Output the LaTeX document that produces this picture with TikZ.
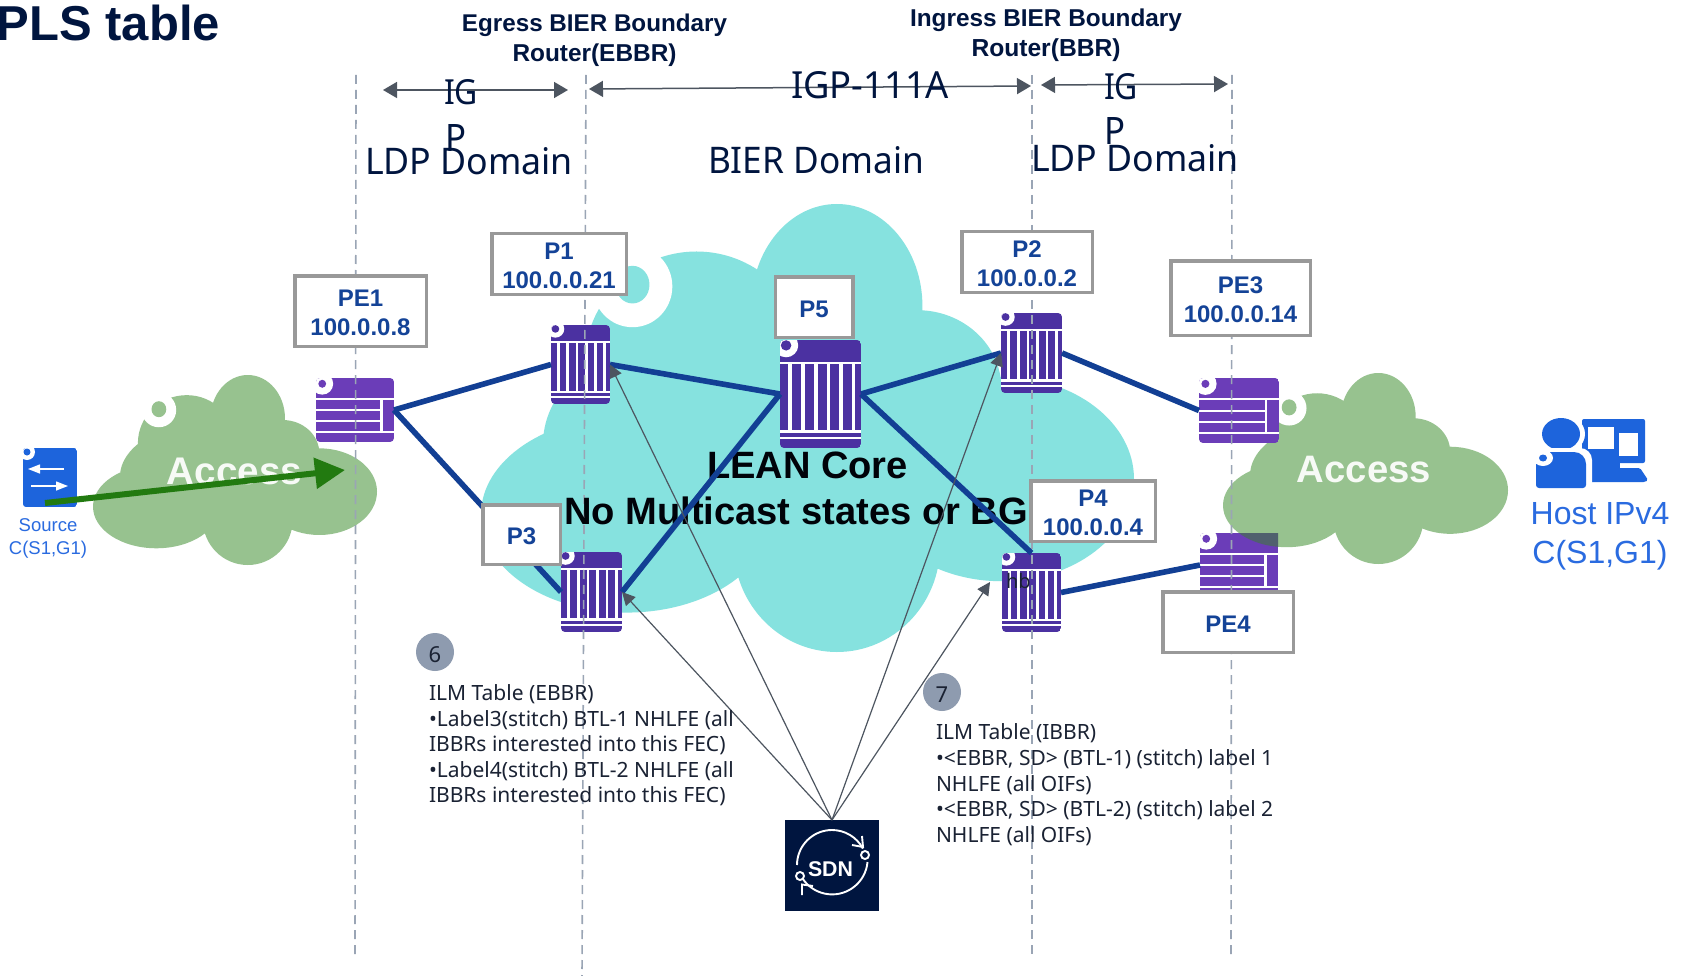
\documentclass[tikz,border=0pt]{standalone}
\usepackage{fontspec}
\usepackage{graphicx}
\setmainfont{Noto Sans}
\newfontfamily\lib{Liberation Sans}
\usetikzlibrary{arrows.meta}
\definecolor{teal1}{HTML}{86E2DF}
\definecolor{green1}{HTML}{97C28F}
\definecolor{darkover}{HTML}{50606E}
\definecolor{vrcol}{HTML}{4B31A1}
\definecolor{hrcol}{HTML}{6B3DB8}
\definecolor{linkblue}{HTML}{123F94}
\definecolor{lblblue}{HTML}{144397}
\definecolor{navy1}{HTML}{00153F}
\definecolor{slate1}{HTML}{4D5560}
\definecolor{dash1}{HTML}{9AA5B5}
\definecolor{gbox}{HTML}{999999}
\definecolor{srcblue}{HTML}{1D64DC}
\definecolor{txtblue}{HTML}{2A6BE0}
\definecolor{arrowgreen}{HTML}{227A10}
\definecolor{badge}{HTML}{8E9BAF}
\definecolor{ink}{HTML}{1A2233}
\newcommand\fz[2]{\fontsize{#1}{#2}\selectfont}
\newcommand\fitw[2]{\resizebox{#1pt}{!}{#2}}
\newcommand\fitwh[3]{\resizebox{#1pt}{#2pt}{#3}}
\newcommand\lowerstrut{\rule{0pt}{21pt}}
\tikzset{
  iconbox/.style={inner sep=0pt,outer sep=0pt,anchor=north west},
  labelbox/.style={draw=gbox,line width=3.5pt,fill=white,inner sep=0pt,outer sep=0pt,align=center,text=lblblue,font=\lib\bfseries\fz{24}{29}},
  plain/.style={inner sep=0pt,outer sep=0pt,anchor=base},
  heading/.style={plain,text=navy1,font=\lib\bfseries\fz{24}{26}},
  stretched/.style={plain,text=navy1,anchor=base west},
  domainline/.style={draw=dash1,line width=1.6pt,dash pattern=on 9pt off 6pt},
  link/.style={draw=linkblue,line width=5.6pt},
  sdnarrow/.style={draw=slate1,line width=1.2pt,-{Triangle[length=13pt,width=13pt]}},
  spanarrow/.style={draw=slate1,fill=slate1,line width=1.5pt,{Triangle[length=14pt,width=16pt]}-{Triangle[length=14pt,width=16pt]}},
  bodytext/.style={inner sep=0pt,outer sep=0pt,anchor=north west,align=left,text=ink,font=\fz{21}{25.6}},
  badgenode/.style={circle,fill=badge,minimum size=38pt,inner sep=0pt,text=ink,font=\fz{22}{24}},
  sdnring/.style={white,line width=1.9pt},
}
% lobes of a cloud in the unit square
\newcommand\cloudlobes{%
  (.223,.693) ellipse [x radius=.223,y radius=.219]
  (.33,.36) ellipse [x radius=.172,y radius=.254]
  (.545,.228) ellipse [x radius=.131,y radius=.228]
  (.668,.412) ellipse [x radius=.129,y radius=.175]
  (.797,.614) ellipse [x radius=.203,y radius=.228]
  (.545,.763) ellipse [x radius=.158,y radius=.237]
  (.445,.535) ellipse [x radius=.35,y radius=.30]
}
\newcommand\cloudshape[5]{%
  \begin{scope}[shift={(#1,#2)},x=#3pt,y=-#4pt]
    \fill[#5] \cloudlobes;
    \fill[white] (.232,.184) ellipse [x radius=.061,y radius=.091];
    \fill[#5] (.232,.18) ellipse [x radius=.026,y radius=.042];
  \end{scope}}
\newcommand\vrouter[5]{%
  \node[iconbox,minimum width=#4pt,minimum height=#5pt] (#1) at (#2,#3) {};
  \begin{scope}[shift={(#2,#3)},x=#4pt,y=-#5pt]
    \begin{scope}
      \clip[rounded corners=4pt] (0,0) rectangle (1,1);
      \fill[vrcol] (0,0) rectangle (1,1);
      \fill[white] (0,.205) rectangle (1,.225);
      \foreach \u in {.10,.26,.42,.575,.73,.885}{\fill[white] (\u,.205) rectangle (\u+.045,.83);}
      \fill[white] (0,.83) rectangle (1,.865);
      \fill[white] (0,.90) rectangle (1,.92);
      \fill[white] (.075,.05) ellipse [x radius=.15,y radius=.11];
      \fill[vrcol] (.075,.05) ellipse [x radius=.065,y radius=.048];
    \end{scope}
  \end{scope}}
\newcommand\hrouter[5]{%
  \node[iconbox,minimum width=#4pt,minimum height=#5pt] (#1) at (#2,#3) {};
  \begin{scope}[shift={(#2,#3)},x=#4pt,y=-#5pt]
    \begin{scope}
      \clip[rounded corners=4pt] (0,0) rectangle (1,1);
      \fill[hrcol] (0,0) rectangle (1,1);
      \foreach \v in {.31,.835}{\fill[white] (0,\v) rectangle (1,\v+.03);}
      \foreach \v in {.49,.66}{\fill[white] (0,\v) rectangle (.82,\v+.03);}
      \fill[white] (.82,.31) rectangle (.855,.86);
      \fill[white] (.08,.09) ellipse [x radius=.14,y radius=.17];
      \fill[hrcol] (.08,.09) ellipse [x radius=.05,y radius=.0625];
    \end{scope}
  \end{scope}}
\begin{document}
\begin{tikzpicture}[x=1pt,y=-1pt]
\useasboundingbox (0,0) rectangle (1685,976);
\fill[white] (0,0) rectangle (1685,976);

% title
\node[plain,anchor=base east,text=navy1,font=\lib\bfseries\fz{49}{50}] (title) at (220,41) {PLS table};

% clouds
\cloudshape{481}{204}{653}{448}{teal1}
\cloudshape{93}{375}{284}{190}{green1}
\cloudshape{1223}{373}{285}{191}{green1}

% routers
\hrouter{pe1}{316}{378}{78}{64}
\vrouter{p1}{551}{325}{59}{79}
\vrouter{p5}{780}{340}{81}{108}
\vrouter{p2}{1001}{313}{61}{80}
\vrouter{p3}{561}{552}{61}{80}
\vrouter{p4}{1002}{553}{59}{79}
\hrouter{pe3}{1199}{378}{80}{65}
\hrouter{pe4}{1200}{533}{78}{64}

% cloud seen over the edge routers
\begin{scope}
  \clip (1199,378) rectangle (1279,443);
  \begin{scope}[shift={(1223,373)},x=285pt,y=-191pt]
    \fill[darkover] (.223,.693) ellipse [x radius=.223,y radius=.219];
  \end{scope}
\end{scope}
\begin{scope}
  \clip (1200,533) rectangle (1278,597);
  \begin{scope}[shift={(1223,373)},x=285pt,y=-191pt]
    \fill[darkover] (.223,.693) ellipse [x radius=.223,y radius=.219];
  \end{scope}
\end{scope}

% domain lines
\coordinate (d1a) at (356,75); \coordinate (d1b) at (355,955);
\coordinate (d2a) at (586,75); \coordinate (d2b) at (582,976);
\coordinate (d3a) at (1032,75); \coordinate (d3b) at (1032,957);
\coordinate (d4a) at (1232,75); \coordinate (d4b) at (1231,957);
\draw[domainline] (d1a) -- (d1b);
\draw[domainline] (d2a) -- (d2b);
\draw[domainline] (d3a) -- (d3b);
\draw[domainline] (d4a) -- (d4b);

% headings
\node[heading] (eg1) at (594.5,32) {\fitw{265}{Egress BIER Boundary}};
\node[heading] (eg2) at (594.5,62) {\fitw{164}{Router(EBBR)}};
\node[heading] (in1) at (1046,27) {\fitw{272}{Ingress BIER Boundary}};
\node[heading] (in2) at (1046,57) {\fitw{149}{Router(BBR)}};

% span arrows
\coordinate (s1a) at (383,90); \coordinate (s1b) at (568,90);
\coordinate (s2a) at (589,89); \coordinate (s2b) at (1031,86);
\coordinate (s3a) at (1041,85); \coordinate (s3b) at (1228,84);
\draw[spanarrow] (s1a) -- (s1b);
\draw[spanarrow] (s2a) -- (s2b);
\draw[spanarrow] (s3a) -- (s3b);

% domain texts
\node[stretched] (ig1) at (444,105) {\fitwh{34}{25}{IG}};
\node[stretched] (ip1) at (445,152) {\fitwh{21}{27}{P}};
\node[stretched] (ig2) at (1104,100) {\fitwh{34}{26}{IG}};
\node[stretched] (ip2) at (1104,145) {\fitwh{21}{27}{P}};
\node[stretched] (igp) at (791,99) {\fitwh{158}{27}{IGP-111A}};
\node[stretched] (ld1) at (365,175) {\fitwh{208}{27}{LDP Domain}};
\node[stretched] (bd) at (708,174) {\fitwh{216}{27}{BIER Domain}};
\node[stretched] (ld2) at (1031,172) {\fitwh{208}{27}{LDP Domain}};

% cloud texts
\node[plain,text=black!85!navy1,font=\lib\bfseries] (core1) at (807.5,478) {\fitw{201}{LEAN Core}};
\node[plain,text=black!85!navy1,font=\lib\bfseries] (core2) at (796,524) {\fitw{464}{No Multicast states or BG}};
\node[plain,text=white!92!green1,font=\lib\bfseries] (acc1) at (234.5,484) {\fitw{135}{Access}};
\node[plain,text=white!92!green1,font=\lib\bfseries] (acc2) at (1364,482) {\fitw{134}{Access}};
\node[plain,text=ink,anchor=base west,font=\fz{20}{22}] (hb) at (1006,588) {hb};

% links
\draw[link] (pe1.east) -- (p1.west);
\draw[link] (p1.east) -- (p5.west);
\draw[link] (pe1.east) -- (p3.west);
\draw[link] (p3.east) -- (p5.west);
\draw[link] (p5.east) -- (p2.west);
\draw[link] (p5.east) -- (p4.north);
\draw[link] (p2.east) -- (pe3.west);
\draw[link] (p4.east) -- (pe4.west);

% label boxes
\node[labelbox,minimum width=131.5pt,minimum height=70.5pt] (pe1box) at (360.5,311) {\lowerstrut PE1\\100.0.0.8};
\node[labelbox,minimum width=134.5pt,minimum height=60.5pt] (p1box) at (559,264) {\lowerstrut P1\\100.0.0.21};
\node[labelbox,minimum width=77.5pt,minimum height=60.5pt] (p5box) at (814,307) {\lowerstrut P5};
\node[labelbox,minimum width=130.5pt,minimum height=60.5pt] (p2box) at (1027,262) {\lowerstrut P2\\100.0.0.2};
\node[labelbox,minimum width=139.5pt,minimum height=74.5pt] (pe3box) at (1240.5,298) {\lowerstrut PE3\\100.0.0.14};
\node[labelbox,minimum width=77.5pt,minimum height=59.5pt] (p3box) at (521.5,534.5) {\lowerstrut P3};
\node[labelbox,minimum width=124.5pt,minimum height=60.5pt] (p4box) at (1093,511) {\lowerstrut P4\\100.0.0.4};
\node[labelbox,minimum width=130.5pt,minimum height=60.5pt] (pe4box) at (1228,622) {\lowerstrut PE4};

% source
\node[iconbox,minimum width=54pt,minimum height=59pt] (source) at (23,448) {};
\begin{scope}
  \clip[rounded corners=3pt] (23,448) rectangle (77,507);
  \fill[srcblue] (23,448) rectangle (77,507);
  \fill[white] (27,452) circle[radius=8pt];
  \fill[srcblue] (27,452) circle[radius=3.5pt];
\end{scope}
\coordinate (sa1) at (64,469); \coordinate (sa2) at (28,469);
\coordinate (sa3) at (31,486); \coordinate (sa4) at (68,486);
\draw[white,line width=1.4pt,-{Triangle[length=12pt,width=9pt]}] (sa1) -- (sa2);
\draw[white,line width=1.4pt,-{Triangle[length=12pt,width=9pt]}] (sa3) -- (sa4);
\node[plain,text=txtblue,font=\lib\fz{18.5}{20}] (src1) at (48,531) {Source};
\node[plain,text=txtblue,font=\lib\fz{18.5}{20}] (src2) at (48,554) {C(S1,G1)};

% stream arrow
\coordinate (flowa) at (45,503);
\coordinate (flowb) at (345,470);
\draw[arrowgreen,line width=6pt,-{Triangle[length=30pt,width=30pt]}] (flowa) -- (flowb);

% host
\fill[srcblue,rounded corners=2pt] (1582,419) rectangle (1645,463);
\fill[white] (1588,427) rectangle (1614,449);
\fill[white] (1619,433) rectangle (1638,456);
\fill[srcblue,rounded corners=1.5pt] (1590,468) -- (1620,468) -- (1640,468) -- (1648,480) -- (1645,482) -- (1590,482) -- cycle;
\fill[srcblue] (1590,460) rectangle (1620,472);
\fill[white] (1561,434) ellipse [x radius=24pt,y radius=20pt];
\fill[srcblue] (1561,434) ellipse [x radius=19pt,y radius=16pt];
\fill[white,rounded corners=12pt] (1532,448) -- (1592,448) -- (1592,494) -- (1532,494) -- cycle;
\fill[srcblue,rounded corners=4pt] (1536,488) -- (1536,470) [rounded corners=12pt] -- (1536,452) -- (1586,452) [rounded corners=3pt] -- (1586,488) -- cycle;
\fill[white] (1543,458) ellipse [x radius=10pt,y radius=8pt];
\fill[srcblue] (1543,458) ellipse [x radius=4pt,y radius=3.5pt];
\node[plain,text=txtblue,font=\lib\fz{32}{33}] (host1) at (1600,524) {Host IPv4};
\node[plain,text=txtblue,font=\lib\fz{32}{33}] (host2) at (1600,563) {C(S1,G1)};

% SDN
\node[fill=navy1,minimum width=94pt,minimum height=91pt,inner sep=0pt,outer sep=0pt,anchor=north west] (sdn) at (785,820) {};
\node[plain,text=white,font=\lib\bfseries] (sdnt) at (830.5,876) {\fitw{45}{SDN}};
\draw[sdnring] (797,865) arc[start angle=180,end angle=28,radius=35pt];
\draw[sdnring,line join=miter] (852,845) -- (863,847) -- (862,836);
\draw[sdnring] (867.5,862) arc[start angle=-5,end angle=-147,radius=35.5pt];
\draw[sdnring,line join=miter] (813,886) -- (802,884.5) -- (802,895);
\draw[sdnring] (865,855) circle[radius=4pt];
\draw[sdnring] (800,876) circle[radius=4pt];

% controller arrows
\coordinate (p4in) at (990,582);
\draw[sdnarrow] (sdn.north) -- (p1.east);
\draw[sdnarrow] (sdn.north) -- (p3.east);
\draw[sdnarrow] (sdn.north) -- (p2.west);
\draw[sdnarrow] (sdn.north) -- (p4in);

% notes
\node[badgenode] (six) at (435,652) {\rule{0pt}{21pt}6};
\node[badgenode] (seven) at (942,692) {\rule{0pt}{21pt}7};
\node[bodytext] (ebbr) at (429,684.5) {ILM Table (EBBR)\\•Label3(stitch) BTL-1 NHLFE (all\\IBBRs interested into this FEC)\\•Label4(stitch) BTL-2 NHLFE (all\\IBBRs interested into this FEC)};
\node[bodytext] (ibbr) at (936,724) {ILM Table (IBBR)\\•<EBBR, SD> (BTL-1) (stitch) label 1\\NHLFE (all OIFs)\\•<EBBR, SD> (BTL-2) (stitch) label 2\\NHLFE (all OIFs)};
\end{tikzpicture}
\end{document}
